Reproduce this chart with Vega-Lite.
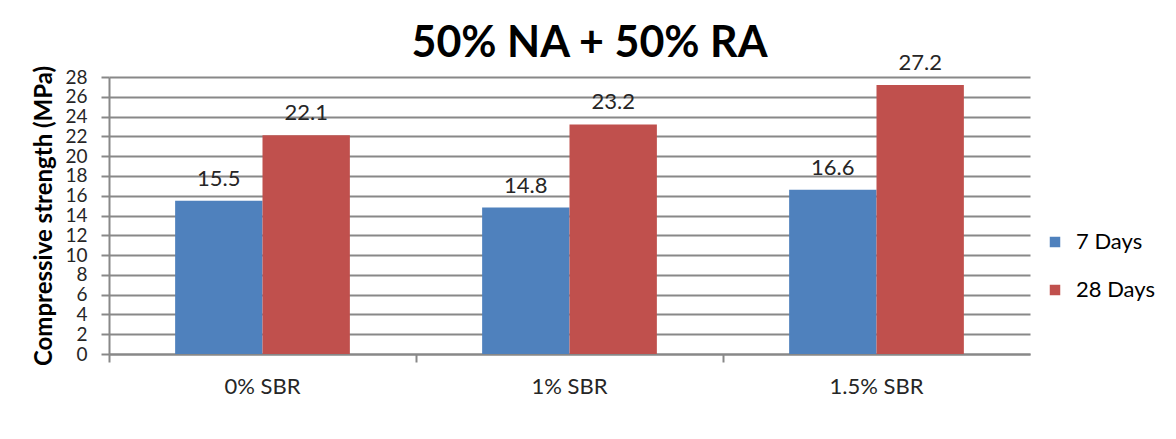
{
  "$schema": "https://vega.github.io/schema/vega-lite/v6.json",
  "autosize": "none",
  "width": 921,
  "height": 277,
  "padding": {"left": 109, "top": 77, "right": 146, "bottom": 85},
  "background": "white",
  "config": {
    "view": {"stroke": null},
    "font": "Lato"
  },
  "title": {
    "text": "50% NA + 50% RA",
    "font": "Lato",
    "fontSize": 43,
    "fontWeight": "bold",
    "color": "#000000",
    "anchor": "middle",
    "frame": "group",
    "dx": 20,
    "offset": -14
  },
  "data": {
    "values": [
      {"mix": "0% SBR", "age": "7 Days", "strength": 15.5},
      {"mix": "0% SBR", "age": "28 Days", "strength": 22.1},
      {"mix": "1% SBR", "age": "7 Days", "strength": 14.8},
      {"mix": "1% SBR", "age": "28 Days", "strength": 23.2},
      {"mix": "1.5% SBR", "age": "7 Days", "strength": 16.6},
      {"mix": "1.5% SBR", "age": "28 Days", "strength": 27.2}
    ]
  },
  "encoding": {
    "x": {
      "field": "mix",
      "type": "nominal",
      "sort": ["0% SBR", "1% SBR", "1.5% SBR"],
      "scale": {"paddingInner": 0, "paddingOuter": 0},
      "axis": {
        "title": null,
        "labelAngle": 0,
        "labelFont": "Lato",
        "labelFontSize": 22,
        "labelColor": "#262626",
        "labelPadding": 14,
        "bandPosition": 0,
        "tickSize": 8,
        "tickColor": "#888888",
        "tickWidth": 2,
        "domainColor": "#888888",
        "domainWidth": 2,
        "grid": false
      }
    },
    "xOffset": {
      "field": "age",
      "type": "nominal",
      "sort": ["7 Days", "28 Days"],
      "scale": {"paddingInner": 0, "paddingOuter": 0.757}
    },
    "y": {
      "field": "strength",
      "type": "quantitative",
      "scale": {"domain": [0, 28], "nice": false},
      "axis": {
        "title": "Compressive strength (MPa)",
        "titleFont": "Lato",
        "titleFontSize": 24,
        "titleFontWeight": "bold",
        "titleColor": "#000000",
        "titlePadding": 8,
        "values": [0, 2, 4, 6, 8, 10, 12, 14, 16, 18, 20, 22, 24, 26, 28],
        "labelFont": "Lato",
        "labelFontSize": 19,
        "labelColor": "#262626",
        "labelPadding": 14,
        "labelOverlap": false,
        "labelFlush": false,
        "tickSize": 8,
        "tickColor": "#888888",
        "tickWidth": 2,
        "domainColor": "#888888",
        "domainWidth": 2,
        "grid": true,
        "gridColor": "#888888",
        "gridWidth": 2
      }
    },
    "color": {
      "field": "age",
      "type": "nominal",
      "sort": ["7 Days", "28 Days"],
      "scale": {"domain": ["7 Days", "28 Days"], "range": ["#4F81BD", "#C0504D"]},
      "legend": {
        "title": null,
        "orient": "none",
        "legendX": 935,
        "legendY": 154,
        "symbolType": "square",
        "symbolSize": 110,
        "symbolStrokeWidth": 0,
        "labelFont": "Lato",
        "labelFontSize": 22,
        "labelColor": "#000000",
        "labelOffset": 10,
        "rowPadding": 26
      }
    }
  },
  "layer": [
    {"mark": {"type": "bar", "opacity": 1}},
    {
      "mark": {"type": "text", "baseline": "alphabetic", "dy": -15, "font": "Lato", "fontSize": 22, "color": "#262626"},
      "encoding": {
        "text": {"field": "strength", "type": "quantitative", "format": ".1f"},
        "color": {"value": "#262626"}
      }
    }
  ]
}
